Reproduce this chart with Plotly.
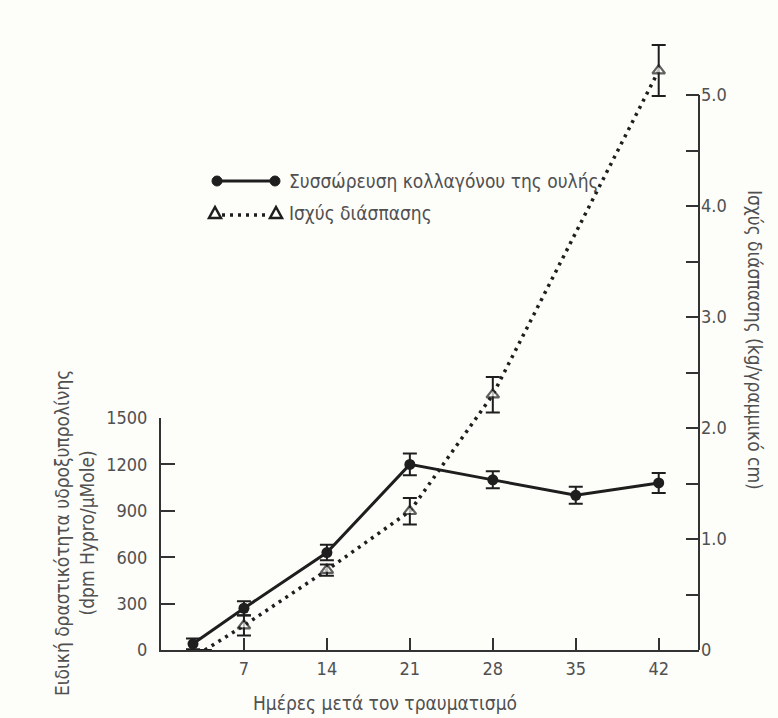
import plotly.graph_objects as go

# ---------------- data ----------------
days_collagen = [2.7, 7, 14, 21, 28, 35, 42]
collagen = [40, 270, 630, 1200, 1100, 1000, 1080]
collagen_err = [35, 45, 50, 70, 55, 55, 65]

days_strength = [3.7, 7, 14, 21, 28, 42]
strength = [0, 0.22, 0.72, 1.25, 2.3, 5.22]
strength_err = [0, 0.09, 0.05, 0.12, 0.16, 0.23]
strength_marker = [0, 11, 11, 11, 11, 11]

x_ticks = [7, 14, 21, 28, 35, 42]
left_ticks = [0, 300, 600, 900, 1200, 1500]
right_ticks = [0, 0.5, 1.0, 1.5, 2.0, 2.5, 3.0, 3.5, 4.0, 4.5, 5.0]
right_labels = ["0", "", "1.0", "", "2.0", "", "3.0", "", "4.0", "", "5.0"]

name_collagen = "Συσσώρευση κολλαγόνου της ουλής"
name_strength = "Ισχύς διάσπασης"
x_title = "Ημέρες μετά τον τραυματισμό"
left_title = "Ειδική δραστικότητα υδροξυπρολίνης<br>(dpm Hypro/μMole)"
right_title = "Ισχύς διάσπασης (kg/γραμμικό cm)"

# ---------------- geometry ----------------
W, H = 778, 718
L, R, T, B = 161, 699, 40, 650
LEFT_TOP = 418          # pixel row of the 1500 tick
RIGHT_TOP = 95          # pixel row of the 5.0 tick
unit2 = (B - RIGHT_TOP) / 5.0
y2_max = (B - T) / unit2

def px2x(px):
    return (px - L) / (R - L)

def py2y(py):
    return (B - py) / (B - T)

FONT = "Liberation Sans Narrow, DejaVu Sans Condensed, Arial Narrow, sans-serif"
TXT = "#505050"
AX = "#333333"
INK = "#1e1e1e"
BG = "#fdfdfa"

fig = go.Figure()

fig.add_trace(go.Scatter(
    x=days_collagen, y=collagen, xaxis="x", yaxis="y",
    mode="lines+markers", name=name_collagen,
    line=dict(color=INK, width=3),
    marker=dict(symbol="circle", size=11, color=INK),
    error_y=dict(type="data", array=collagen_err, color=INK, thickness=2, width=7),
    cliponaxis=False, showlegend=False,
))

fig.add_trace(go.Scatter(
    x=days_strength, y=strength, xaxis="x", yaxis="y2",
    mode="lines+markers", name=name_strength,
    line=dict(color=INK, width=3.5, dash="3px,5px"),
    marker=dict(symbol="triangle-up", size=strength_marker, color=BG,
                line=dict(width=2.2, color=INK)),
    error_y=dict(type="data", array=strength_err, color=INK, thickness=2, width=7),
    cliponaxis=False, showlegend=False,
))

tickfont = dict(family=FONT, size=18, color=TXT)

fig.update_layout(
    width=W, height=H,
    margin=dict(l=L, r=W - R, t=T, b=H - B),
    paper_bgcolor=BG,
    plot_bgcolor="rgba(0,0,0,0)",
    showlegend=False,
    xaxis=dict(
        range=[0, 45.4], tickvals=x_ticks, ticks="inside", ticklen=12,
        tickwidth=2, tickcolor=AX, showline=True, linewidth=2, linecolor=AX,
        showgrid=False, zeroline=False, tickfont=tickfont, ticklabelstandoff=1,
        anchor="y",
    ),
    yaxis=dict(
        domain=[0, (B - LEFT_TOP) / (B - T)], range=[0, 1500],
        tickvals=left_ticks, ticks="inside", ticklen=14, tickwidth=2,
        tickcolor=AX, showline=True, linewidth=2, linecolor=AX,
        showgrid=False, zeroline=False, tickfont=tickfont,
        ticklabelstandoff=8, anchor="x",
    ),
    yaxis2=dict(
        domain=[0, 1], range=[0, y2_max], side="right", anchor="x",
        tickvals=right_ticks, ticktext=right_labels, ticks="inside",
        ticklen=13, tickwidth=2, tickcolor=AX, showline=False,
        showgrid=False, zeroline=False, tickfont=tickfont,
        ticklabelstandoff=1,
    ),
)

annots = []
textfont = dict(family=FONT, size=19, color=TXT)
annots.append(dict(x=px2x(287), y=py2y(181), xref="paper", yref="paper",
                   text=name_collagen, showarrow=False, xanchor="left",
                   yanchor="middle", font=textfont))
annots.append(dict(x=px2x(287), y=py2y(213), xref="paper", yref="paper",
                   text=name_strength, showarrow=False, xanchor="left",
                   yanchor="middle", font=textfont))
annots.append(dict(x=px2x(385), y=py2y(703), xref="paper", yref="paper",
                   text=x_title, showarrow=False, xanchor="center",
                   yanchor="middle", font=textfont))
annots.append(dict(x=px2x(74), y=py2y(533), xref="paper", yref="paper",
                   text=left_title, showarrow=False, xanchor="center",
                   yanchor="middle", textangle=-90, font=textfont))
annots.append(dict(x=px2x(755), y=py2y(340), xref="paper", yref="paper",
                   text=right_title, showarrow=False, xanchor="center",
                   yanchor="middle", textangle=90, font=textfont))
fig.update_layout(annotations=annots)

shapes = []
# right axis line, from 0 up to the 5.0 tick
shapes.append(dict(type="line", xref="paper", yref="y2", x0=1, x1=1,
                   y0=0, y1=5.0, line=dict(color=AX, width=2)))
# legend glyphs
ly1, ly2 = 181, 213
shapes.append(dict(type="line", xref="paper", yref="paper",
                   x0=px2x(217), x1=px2x(275), y0=py2y(ly1), y1=py2y(ly1),
                   line=dict(color=INK, width=3)))
for cx in (217, 275):
    shapes.append(dict(type="circle", xref="paper", yref="paper",
                       x0=px2x(cx - 5), x1=px2x(cx + 5),
                       y0=py2y(ly1 + 5), y1=py2y(ly1 - 5),
                       fillcolor=INK, line=dict(color=INK, width=1)))
shapes.append(dict(type="line", xref="paper", yref="paper",
                   x0=px2x(222), x1=px2x(268), y0=py2y(ly2 + 2), y1=py2y(ly2 + 2),
                   line=dict(color=INK, width=3.5, dash="3px,5px")))
for cx in (215, 276):
    p = "M {} {} L {} {} L {} {} Z".format(
        px2x(cx - 6), py2y(ly2 + 5), px2x(cx + 6), py2y(ly2 + 5),
        px2x(cx), py2y(ly2 - 6))
    shapes.append(dict(type="path", xref="paper", yref="paper", path=p,
                       line=dict(color=INK, width=2.5), fillcolor="rgba(0,0,0,0)"))
fig.update_layout(shapes=shapes)

fig.write_html(
    "out.html",
    config={"displayModeBar": False},
    post_script="document.body.style.margin='0';document.body.style.padding='0';",
)
